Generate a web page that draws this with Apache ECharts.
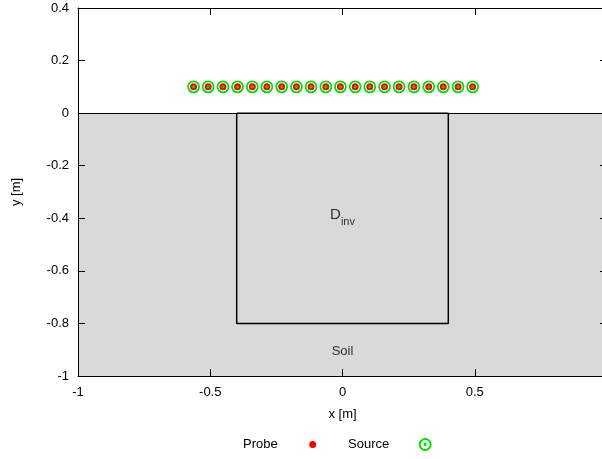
<!DOCTYPE html>
<html>
<head>
<meta charset="utf-8">
<script src="https://cdn.jsdelivr.net/npm/echarts@6/dist/echarts.min.js"></script>
<style>
html,body{margin:0;padding:0;background:#fff;}
#c{width:602px;height:459px;}
</style>
</head>
<body>
<div id="c"></div>
<script>
// Data
const probeX = [-0.563,-0.508,-0.452,-0.397,-0.341,-0.286,-0.230,-0.174,-0.119,-0.063,-0.008,0.048,0.103,0.159,0.214,0.270,0.326,0.381,0.437,0.492];
const probeY = [0.1,0.1,0.1,0.1,0.1,0.1,0.1,0.1,0.1,0.1,0.1,0.1,0.1,0.1,0.1,0.1,0.1,0.1,0.1,0.1];
const sourceX = probeX.slice();
const sourceY = probeY.slice();
const dinvBoxX = [-0.4, 0.4, 0.4, -0.4, -0.4];
const dinvBoxY = [0, 0, -0.8, -0.8, 0];
const soilArea = [[-1, -1], [1, 0]];
const labelTexts = ['D', 'inv', 'Soil'];
const dinvLabelPos = [0, -0.395];
const soilLabelPos = [0, -0.905];
const xTicks = {min: -1, max: 1, interval: 0.5};
const yTicks = {min: -1, max: 0.4, interval: 0.2};

const font = 'Liberation Sans, Arial, sans-serif';
const fs = 13;
const zip = (a, b) => a.map((v, i) => [v, b[i]]);
const ringPath = 'path://M0,-10A10,10 0 1,1 0,10A10,10 0 1,1 0,-10Z M0,-1.2A1.2,1.2 0 1,1 0,1.2A1.2,1.2 0 1,1 0,-1.2Z';

const chart = echarts.init(document.getElementById('c'), null, {renderer: 'canvas'});
const axisCommon = {
  axisLine: {show: true, onZero: false, lineStyle: {color: '#000', width: 1}},
  axisTick: {show: true, inside: true, length: 7, lineStyle: {color: '#000'}},
  splitLine: {show: false},
  z: 10
};
const legendText = {fontFamily: font, fontSize: fs, color: '#000'};
chart.setOption({
  animation: false,
  textStyle: {fontFamily: font},
  grid: {left: 78, top: 8, right: -5, bottom: 83, show: false, outerBoundsMode: 'none', containLabel: false},
  legend: [
    {data: ['Probe'], align: 'right', left: 238, top: 433, itemWidth: 60, itemHeight: 7,
      textStyle: legendText},
    {data: ['Source'], align: 'right', left: 343, top: 433, itemWidth: 62, itemHeight: 11,
      textStyle: legendText}
  ],
  xAxis: [
    Object.assign({type: 'value', position: 'bottom', min: xTicks.min, max: xTicks.max, interval: xTicks.interval,
      name: 'x [m]', nameLocation: 'middle', nameGap: 32,
      nameTextStyle: {fontFamily: font, fontSize: fs, color: '#000'},
      axisLabel: {fontFamily: font, fontSize: fs, color: '#000', margin: 10}}, axisCommon),
    Object.assign({type: 'value', position: 'top', min: xTicks.min, max: xTicks.max, interval: xTicks.interval,
      axisLabel: {show: false}}, axisCommon)
  ],
  yAxis: [
    Object.assign({type: 'value', position: 'left', min: yTicks.min, max: yTicks.max, interval: yTicks.interval,
      name: 'y [m]', nameLocation: 'middle', nameGap: 55,
      nameTextStyle: {fontFamily: font, fontSize: fs, color: '#000'},
      axisLabel: {fontFamily: font, fontSize: fs, color: '#000', margin: 9}}, axisCommon),
    Object.assign({type: 'value', position: 'right', min: yTicks.min, max: yTicks.max, interval: yTicks.interval,
      axisLabel: {show: false}}, axisCommon)
  ],
  series: [
    {
      name: 'box', type: 'line', data: zip(dinvBoxX, dinvBoxY), symbol: 'none',
      lineStyle: {color: '#000', width: 1.5}, z: 5, silent: true,
      markArea: {
        silent: true,
        itemStyle: {color: '#d9d9d9'},
        data: [[{coord: soilArea[0]}, {coord: soilArea[1]}]]
      },
      markLine: {
        silent: true, symbol: 'none', label: {show: false},
        lineStyle: {color: '#000', width: 1, type: 'solid'},
        data: [{yAxis: 0}]
      }
    },
    {
      name: 'labels', type: 'scatter', symbol: 'circle', symbolSize: 1, silent: true, z: 6,
      itemStyle: {color: 'rgba(0,0,0,0)'},
      data: [
        {value: dinvLabelPos, label: {show: true, position: 'inside',
          formatter: '{a|' + labelTexts[0] + '}{b|' + labelTexts[1] + '}',
          rich: {a: {fontSize: 15, color: '#000', fontFamily: font, padding: [0, 0, 4, 0]},
                 b: {fontSize: 11, color: '#000', fontFamily: font, padding: [10, 0, 0, 0]}}}},
        {value: soilLabelPos, label: {show: true, position: 'inside', formatter: labelTexts[2],
          fontSize: fs, color: '#000', fontFamily: font}}
      ]
    },
    {
      name: 'Probe', type: 'scatter', data: zip(probeX, probeY),
      symbol: 'circle', symbolSize: 7,
      itemStyle: {color: '#ff0000', opacity: 1}, z: 7
    },
    {
      name: 'Source', type: 'scatter', data: zip(sourceX, sourceY),
      symbol: ringPath, symbolSize: 11,
      itemStyle: {color: 'rgba(0,0,0,0)', borderColor: '#00e000', borderWidth: 1.8, opacity: 1}, z: 8
    }
  ]
});
</script>
</body>
</html>
